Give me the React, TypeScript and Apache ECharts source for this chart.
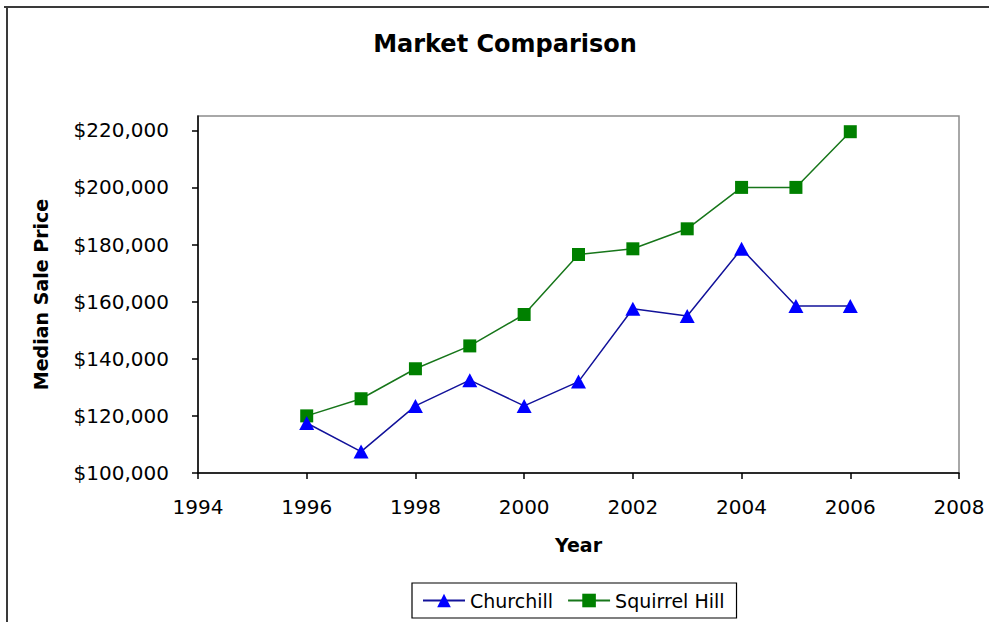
import React, { useEffect, useRef } from "react";
import * as echarts from "echarts";

// Median sale prices by year for two Pittsburgh neighbourhoods
const years = [1996, 1997, 1998, 1999, 2000, 2001, 2002, 2003, 2004, 2005, 2006];
const churchill = [117500, 107500, 123500, 132500, 123500, 132000, 157500, 155000, 178500, 158500, 158500];
const squirrelHill = [120000, 126000, 136500, 144500, 155500, 176500, 178500, 185500, 200000, 200000, 219500];
const yTicks = [100000, 120000, 140000, 160000, 180000, 200000, 220000];
const xTicks = [1994, 1996, 1998, 2000, 2002, 2004, 2006, 2008];

const FONT = "DejaVu Sans";

const money = (v: number) => "$" + v.toLocaleString("en-US");

export default function App() {
  const ref = useRef<HTMLDivElement>(null);

  useEffect(() => {
    if (!ref.current) return;
    const chart = echarts.init(ref.current, undefined, { renderer: "svg" });
    chart.setOption({
      animation: false,
      backgroundColor: "#ffffff",
      title: {
        text: "Market Comparison",
        left: 505,
        textAlign: "center",
        top: 32,
        padding: 0,
        textStyle: { fontFamily: FONT, fontSize: 24, fontWeight: "bold", color: "#000" },
      },
      legend: {
        left: 412,
        top: 583,
        padding: [8, 12, 8, 10],
        borderColor: "#000",
        borderWidth: 1.2,
        itemWidth: 42,
        itemHeight: 17,
        itemGap: 14,
        textStyle: { fontFamily: FONT, fontSize: 19, color: "#000" },
        data: ["Churchill", "Squirrel Hill"],
      },
      grid: {
        left: 198,
        right: 30,
        top: 116,
        bottom: 149,
        show: true,
        borderColor: "#8c8c8c",
        borderWidth: 1.5,
        backgroundColor: "#fff",
      },
      xAxis: {
        type: "value",
        min: xTicks[0],
        max: xTicks[xTicks.length - 1],
        interval: 2,
        name: "Year",
        nameLocation: "middle",
        nameGap: 62,
        nameTextStyle: { fontFamily: FONT, fontSize: 19, fontWeight: "bold", color: "#000" },
        axisLine: { show: true, lineStyle: { color: "#000", width: 1.5 } },
        axisTick: { show: true, length: 6, lineStyle: { color: "#000", width: 1.5 } },
        axisLabel: {
          margin: 24,
          fontFamily: FONT,
          fontSize: 20,
          color: "#000",
          formatter: (v: number) => String(v),
        },
        splitLine: { show: false },
      },
      yAxis: {
        type: "value",
        min: yTicks[0],
        max: 225000,
        interval: 20000,
        name: "Median Sale Price",
        nameLocation: "middle",
        nameGap: 148,
        nameRotate: 90,
        nameTextStyle: { fontFamily: FONT, fontSize: 19, fontWeight: "bold", color: "#000" },
        axisLine: { show: true, lineStyle: { color: "#000", width: 1.5 } },
        axisTick: { show: true, length: 6, lineStyle: { color: "#000", width: 1.5 }, customValues: yTicks },
        axisLabel: {
          margin: 29,
          fontFamily: FONT,
          fontSize: 20,
          color: "#000",
          customValues: yTicks,
          formatter: (v: number) => (yTicks.includes(v) ? money(v) : ""),
        },
        splitLine: { show: false },
      },
      graphic: [
        {
          type: "line",
          shape: { x1: 4, y1: 7, x2: 989, y2: 7 },
          style: { stroke: "#3a3a3a", lineWidth: 2 },
          silent: true,
        },
        {
          type: "line",
          shape: { x1: 7, y1: 7, x2: 7, y2: 622 },
          style: { stroke: "#3a3a3a", lineWidth: 2 },
          silent: true,
        },
      ],
      series: [
        {
          name: "Churchill",
          type: "line",
          data: years.map((y, i) => [y, churchill[i]]),
          symbol: "triangle",
          symbolSize: [15, 14],
          lineStyle: { color: "#12129a", width: 1.5 },
          itemStyle: { color: "#0000ff", borderColor: "#0000ff", borderWidth: 0 },
          z: 3,
        },
        {
          name: "Squirrel Hill",
          type: "line",
          data: years.map((y, i) => [y, squirrelHill[i]]),
          symbol: "rect",
          symbolSize: 13,
          lineStyle: { color: "#17761a", width: 1.5 },
          itemStyle: { color: "#008000", borderColor: "#008000", borderWidth: 0 },
          z: 2,
        },
      ],
    });
    return () => chart.dispose();
  }, []);

  return (
    <div
      ref={ref}
      style={{ position: "fixed", left: 0, top: 0, width: 989, height: 622, background: "#fff" }}
    />
  );
}
